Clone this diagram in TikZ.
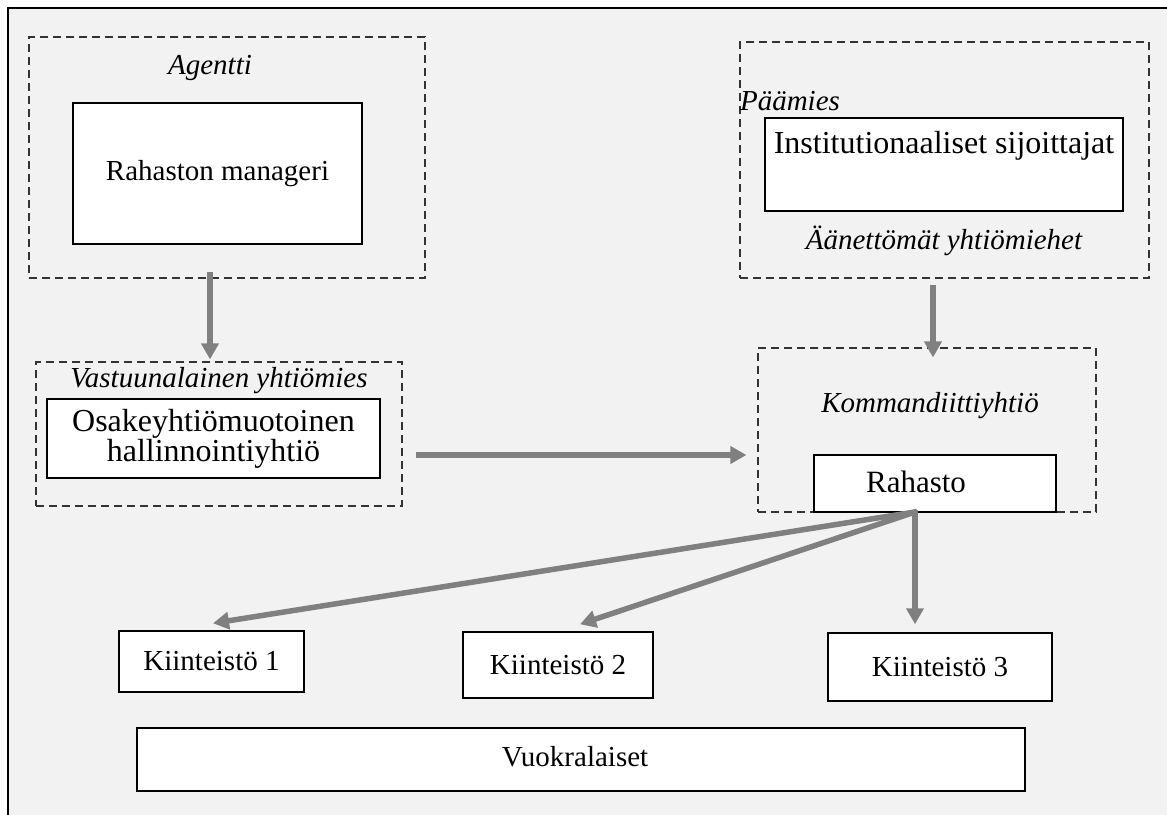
\documentclass[tikz,border=0pt]{standalone}
\usepackage{fontspec}
\setmainfont{Liberation Serif}
\usetikzlibrary{arrows.meta}
\definecolor{bgray}{HTML}{F2F2F2}
\definecolor{agray}{HTML}{808080}
\definecolor{dgray}{HTML}{333333}
\tikzset{
  dbox/.style={draw=dgray, line width=1.2pt, dash pattern=on 8pt off 5pt, inner sep=0pt},
  sbox/.style={draw=black, fill=white, line width=1.5pt, inner sep=0pt, align=center},
  lbl/.style={inner sep=0pt, font=\fontsize{29}{30}\selectfont\itshape},
  txt/.style={inner sep=0pt, align=center, font=\fontsize{29}{30}\selectfont},
  bigtxt/.style={inner sep=0pt, align=center, font=\fontsize{32}{29}\selectfont},
  garrow/.style={draw=agray, line width=5.5pt, -{Triangle[length=16pt,width=17pt]}},
}
\begin{document}
\begin{tikzpicture}[x=1pt,y=-1pt]
\useasboundingbox (0,0) rectangle (1167,814);
\fill[white] (0,0) rectangle (1167,814);
\filldraw[fill=bgray, draw=black, line width=2.6pt] (8,8) rectangle (1180,830);
% dashed groups
\node[dbox, minimum width=396, minimum height=241] (agentti) at (227,157.5) {};
\node[dbox, minimum width=409, minimum height=236] (paamies) at (944.5,160) {};
\node[dbox, minimum width=366, minimum height=144] (vast) at (219,434) {};
\node[dbox, minimum width=338, minimum height=164] (komm) at (927,430) {};
% labels
\node[lbl] (lagentti) at (210,68) {Agentti};
\node[lbl] (lpaamies) at (790,101) {Päämies};
\node[lbl] (laanet) at (944,241) {Äänettömät yhtiömiehet};
\node[lbl] (lvast) at (219,381) {Vastuunalainen yhtiömies};
\node[lbl] (lkomm) at (930,406) {Kommandiittiyhtiö};
% solid boxes
\node[sbox, txt, minimum width=289, minimum height=141] (manageri) at (217.5,173.5) {Rahaston manageri};
\node[sbox, minimum width=358, minimum height=93] (inst) at (944,164.5) {};
\node[bigtxt] (instt) at (944,146) {Institutionaaliset sijoittajat};
\node[sbox, bigtxt, minimum width=333, minimum height=79] (osake) at (213.5,438.5) {Osakeyhtiömuotoinen\\hallinnointiyhtiö};
\node[sbox, minimum width=242, minimum height=57] (rahasto) at (935,483.5) {};
\node[txt, font=\fontsize{31}{32}\selectfont] (rahastot) at (916,482) {Rahasto};
\node[sbox, txt, minimum width=185, minimum height=61] (k1) at (211.5,661.5) {Kiinteistö 1};
\node[sbox, txt, minimum width=190, minimum height=66] (k2) at (558,665) {Kiinteistö 2};
\node[sbox, txt, minimum width=224, minimum height=68] (k3) at (940,667) {Kiinteistö 3};
\node[sbox, minimum width=888, minimum height=63] (vuok) at (581,759.5) {};
\node[txt] (vuokt) at (575,757) {Vuokralaiset};
% arrows
\coordinate (rs) at (915,512);
\draw[garrow] ([xshift=-17pt,yshift=7pt]agentti.south) -- ([xshift=-9pt,yshift=2pt]vast.north);
\draw[garrow] ([xshift=35pt,yshift=-16.5pt]osake.east) -- ([xshift=-11pt,yshift=-25pt]komm.west);
\draw[garrow] ([xshift=-11.5pt,yshift=-6pt]paamies.south) -- ([xshift=6pt,yshift=-10pt]komm.north);
\draw[garrow, shorten <=-2pt] (rs) -- ([xshift=1.5pt,yshift=7pt]k1.north);
\draw[garrow, shorten <=-2pt] (rs) -- ([xshift=22pt,yshift=7pt]k2.north);
\draw[garrow, shorten <=-2pt] (rs) -- ([xshift=-25pt,yshift=8pt]k3.north);
\end{tikzpicture}
\end{document}
